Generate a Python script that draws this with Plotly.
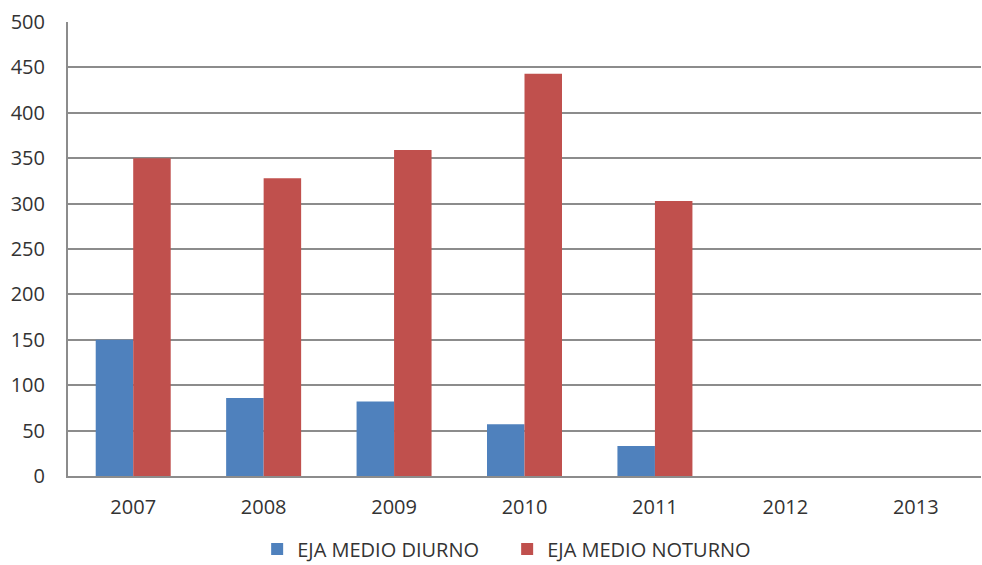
import plotly.graph_objects as go

years = ["2007", "2008", "2009", "2010", "2011", "2012", "2013"]
diurno = [150, 86, 82, 57, 33, None, None]
noturno = [350, 328, 359, 443, 303, None, None]
series_names = ["EJA MEDIO DIURNO", "EJA MEDIO NOTURNO"]
colors = ["#4f81bd", "#c0504d"]

fig = go.Figure()
fig.add_trace(go.Bar(x=years, y=diurno, name=series_names[0], marker=dict(color=colors[0], line=dict(width=0))))
fig.add_trace(go.Bar(x=years, y=noturno, name=series_names[1], marker=dict(color=colors[1], line=dict(width=0))))

font_family = "'Open Sans', sans-serif"
fig.update_layout(
    width=982, height=565,
    margin=dict(l=68, r=1, t=22, b=89, autoexpand=False),
    paper_bgcolor="white", plot_bgcolor="white",
    barmode="group", bargap=0.425, bargroupgap=0,
    font=dict(family=font_family, size=20, color="#333333"),
    legend=dict(orientation="h", x=0.481, xanchor="center", y=-0.118, yanchor="top",
                font=dict(size=20), itemsizing="constant", traceorder="normal",
                itemwidth=30, entrywidth=205),
    showlegend=True,
)
fig.update_xaxes(showline=True, linecolor="#8c8c8c", linewidth=2, ticks="", showgrid=False,
                 tickfont=dict(size=20), ticklabelstandoff=12)
fig.update_yaxes(range=[0, 500], dtick=50, showline=True, linecolor="#8c8c8c", linewidth=2,
                 showgrid=True, gridcolor="#8c8c8c", gridwidth=1.5, ticks="", zeroline=False,
                 tickfont=dict(size=20), ticklabelstandoff=17)

fig.write_html("out.html")
